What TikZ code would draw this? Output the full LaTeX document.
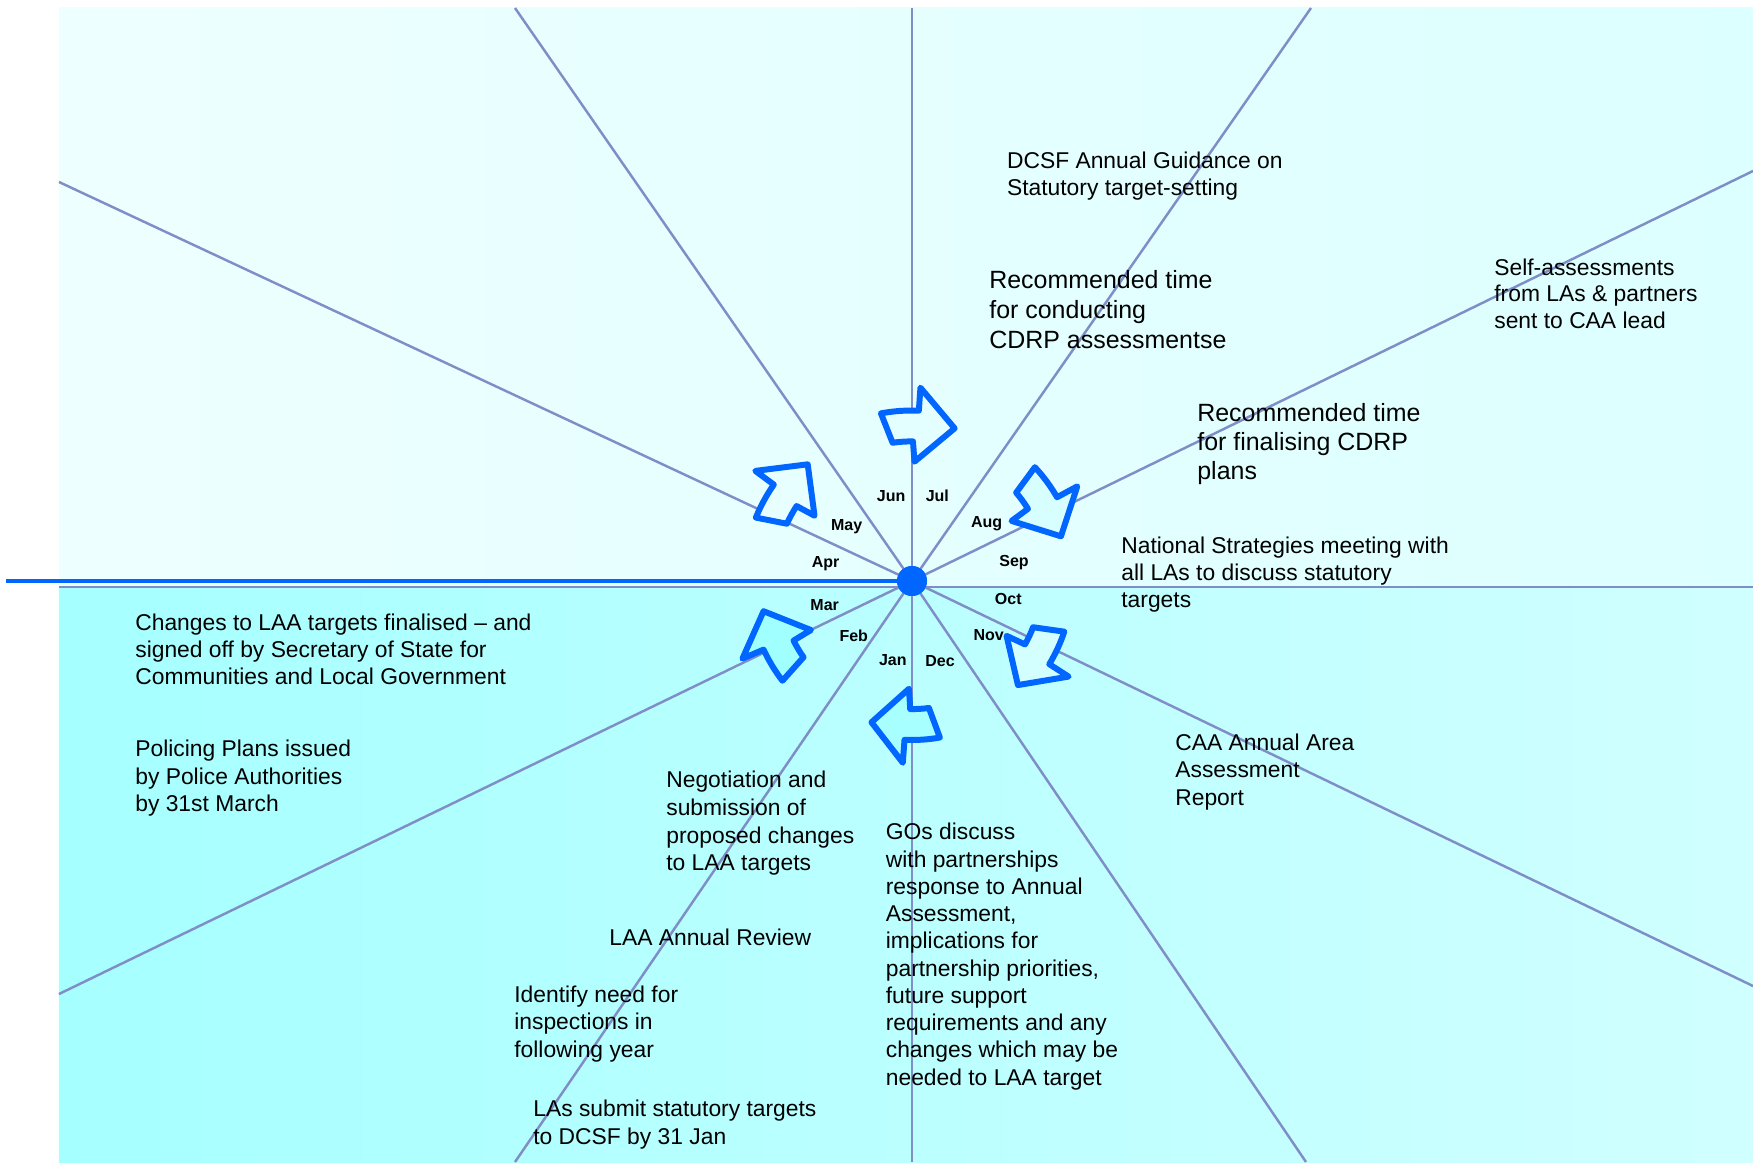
\documentclass[tikz,border=0pt]{standalone}
\usepackage{fontspec}
\setmainfont{Liberation Sans}

\definecolor{rayline}{RGB}{128,142,200}
\definecolor{hubblue}{RGB}{0,102,255}
\definecolor{topL}{RGB}{238,255,255}
\definecolor{topR}{RGB}{220,255,255}
\definecolor{botL}{RGB}{166,255,255}
\definecolor{botR}{RGB}{208,255,255}
\definecolor{fillJul}{RGB}{228,255,255}
\definecolor{fillAug}{RGB}{216,255,255}
\definecolor{fillNov}{RGB}{212,255,255}
\definecolor{fillJan}{RGB}{168,255,255}
\definecolor{fillMar}{RGB}{160,255,255}
\definecolor{fillMay}{RGB}{232,255,255}

% block arrow on the ring: tip angle, radial offset, fill
\newcommand{\cyclearrow}[3]{%
  \filldraw[turnarrow, fill=#3]
    ({#1+26.1}:{169.5+#2}) arc[start angle={#1+26.1}, end angle={#1+13.3}, radius={169.5+#2}]
    -- ({#1+13.1}:{192.5+#2}) -- (#1:{157.5+#2}) -- ({#1+14.4}:{118.3+#2})
    -- ({#1+15.2}:{138.6+#2}) arc[start angle={#1+15.2}, end angle={#1+23.6}, radius={138.6+#2}]
    -- cycle;}

\begin{document}
\begin{tikzpicture}[x=0.02cm, y=0.02cm,
  ray/.style={draw=rayline, line width=1.4pt},
  turnarrow/.style={draw=hubblue, line width=3.4pt, line join=round},
  month/.style={inner sep=0pt, text height=0.7em, text depth=0pt, font=\fontsize{9.1}{11}\selectfont\bfseries},
  note/.style={anchor=north west, inner sep=0pt, align=left, font=\fontsize{13}{15.4}\selectfont},
  bignote/.style={note, font=\fontsize{14.2}{17}\selectfont}]
\useasboundingbox (-912,-581) rectangle (841,581);

% background halves
\shade[left color=topL, right color=topR] (-853,-6) rectangle (841,573);
\shade[left color=botL, right color=botR] (-853,-581) rectangle (841,-6);

\node[circle, fill=hubblue, minimum size=0.6cm, inner sep=0pt] (hub) at (0,0) {};

\coordinate (eN) at (0,573);
\coordinate (eS) at (0,-581);
\coordinate (eNNW) at (-397,573);
\coordinate (eWNW) at (-853,399);
\coordinate (eNNE) at (399,573);
\coordinate (eENE) at (841,410);
\coordinate (eWSW) at (-853,-413);
\coordinate (eSSW) at (-397,-581);
\coordinate (eSSE) at (394,-581);
\coordinate (eESE) at (841,-405);
\coordinate (eW) at (-853,-6);
\coordinate (eE) at (841,-6);
\coordinate (eBlue) at (-906,0);

\draw[ray] (hub.center) -- (eN);
\draw[ray] (hub.center) -- (eS);
\draw[ray] (hub.center) -- (eNNW);
\draw[ray] (hub.center) -- (eWNW);
\draw[ray] (hub.center) -- (eNNE);
\draw[ray] (hub.center) -- (eENE);
\draw[ray] (hub.center) -- (eWSW);
\draw[ray] (hub.center) -- (eSSW);
\draw[ray] (hub.center) -- (eSSE);
\draw[ray] (hub.center) -- (eESE);
\draw[draw=rayline, line width=1.7pt] (eW) -- (eE);
\draw[draw=hubblue, line width=2.3pt] (eBlue) -- (hub.center);
\node[circle, fill=hubblue, minimum size=0.6cm, inner sep=0pt] at (hub) {};

% the six turning arrows
\cyclearrow{74.4}{1}{fillJul}
\cyclearrow{16.7}{-2}{fillAug}
\cyclearrow{-44.5}{-9}{fillNov}
\cyclearrow{-106}{-10.5}{fillJan}
\cyclearrow{191.5}{-6}{fillMar}
\cyclearrow{131.8}{-1}{fillMay}

% months
\node[month] (mJun) at (-20.8,86) {Jun};
\node[month] (mJul) at (25.3,86) {Jul};
\node[month] (mMay) at (-65.3,56.7) {May};
\node[month] (mAug) at (74.7,59.3) {Aug};
\node[month] (mApr) at (-86.3,20) {Apr};
\node[month] (mSep) at (102,21) {Sep};
\node[month] (mMar) at (-87.3,-23.3) {Mar};
\node[month] (mOct) at (96.3,-17.3) {Oct};
\node[month] (mFeb) at (-58.2,-54) {Feb};
\node[month] (mNov) at (76.7,-53.3) {Nov};
\node[month] (mJan) at (-19.2,-78.3) {Jan};
\node[month] (mDec) at (28,-79) {Dec};

% events
\node[note, font=\fontsize{13}{15.2}\selectfont] (guidance) at (94.7,429.3) {DCSF Annual Guidance on\\Statutory target-setting};
\node[bignote] (conduct) at (77,311) {Recommended time\\for conducting\\CDRP assessmentse};
\node[note, font=\fontsize{13}{15.2}\selectfont] (selfassess) at (582,322.7) {Self-assessments\\from LAs \& partners\\sent to CAA lead};
\node[bignote, font=\fontsize{14.2}{16.5}\selectfont] (finalise) at (285,177.7) {Recommended time\\for finalising CDRP\\plans};
\node[note] (meeting) at (209,44.3) {National Strategies meeting with\\all LAs to discuss statutory\\targets};
\node[note] (laachanges) at (-777,-32.5) {Changes to LAA targets finalised -- and\\signed off by Secretary of State for\\Communities and Local Government};
\node[note, font=\fontsize{13}{15.6}\selectfont] (policing) at (-777,-159) {Policing Plans issued\\by Police Authorities\\by 31st March};
\node[note, font=\fontsize{13}{15.7}\selectfont] (negotiate) at (-246,-190) {Negotiation and\\submission of\\proposed changes\\to LAA targets};
\node[note] (review) at (-303,-348) {LAA Annual Review};
\node[note] (inspect) at (-398,-405) {Identify need for\\inspections in\\following year};
\node[note, font=\fontsize{13}{15.9}\selectfont] (submit) at (-379,-519) {LAs submit statutory targets\\to DCSF by 31 Jan};
\node[note, font=\fontsize{13}{15.5}\selectfont] (gos) at (-26.5,-242) {GOs discuss\\with partnerships\\response to Annual\\Assessment,\\implications for\\partnership priorities,\\future support\\requirements and any\\changes which may be\\needed to LAA target};
\node[note] (caa) at (263,-153) {CAA Annual Area\\Assessment\\Report};
\end{tikzpicture}
\end{document}
